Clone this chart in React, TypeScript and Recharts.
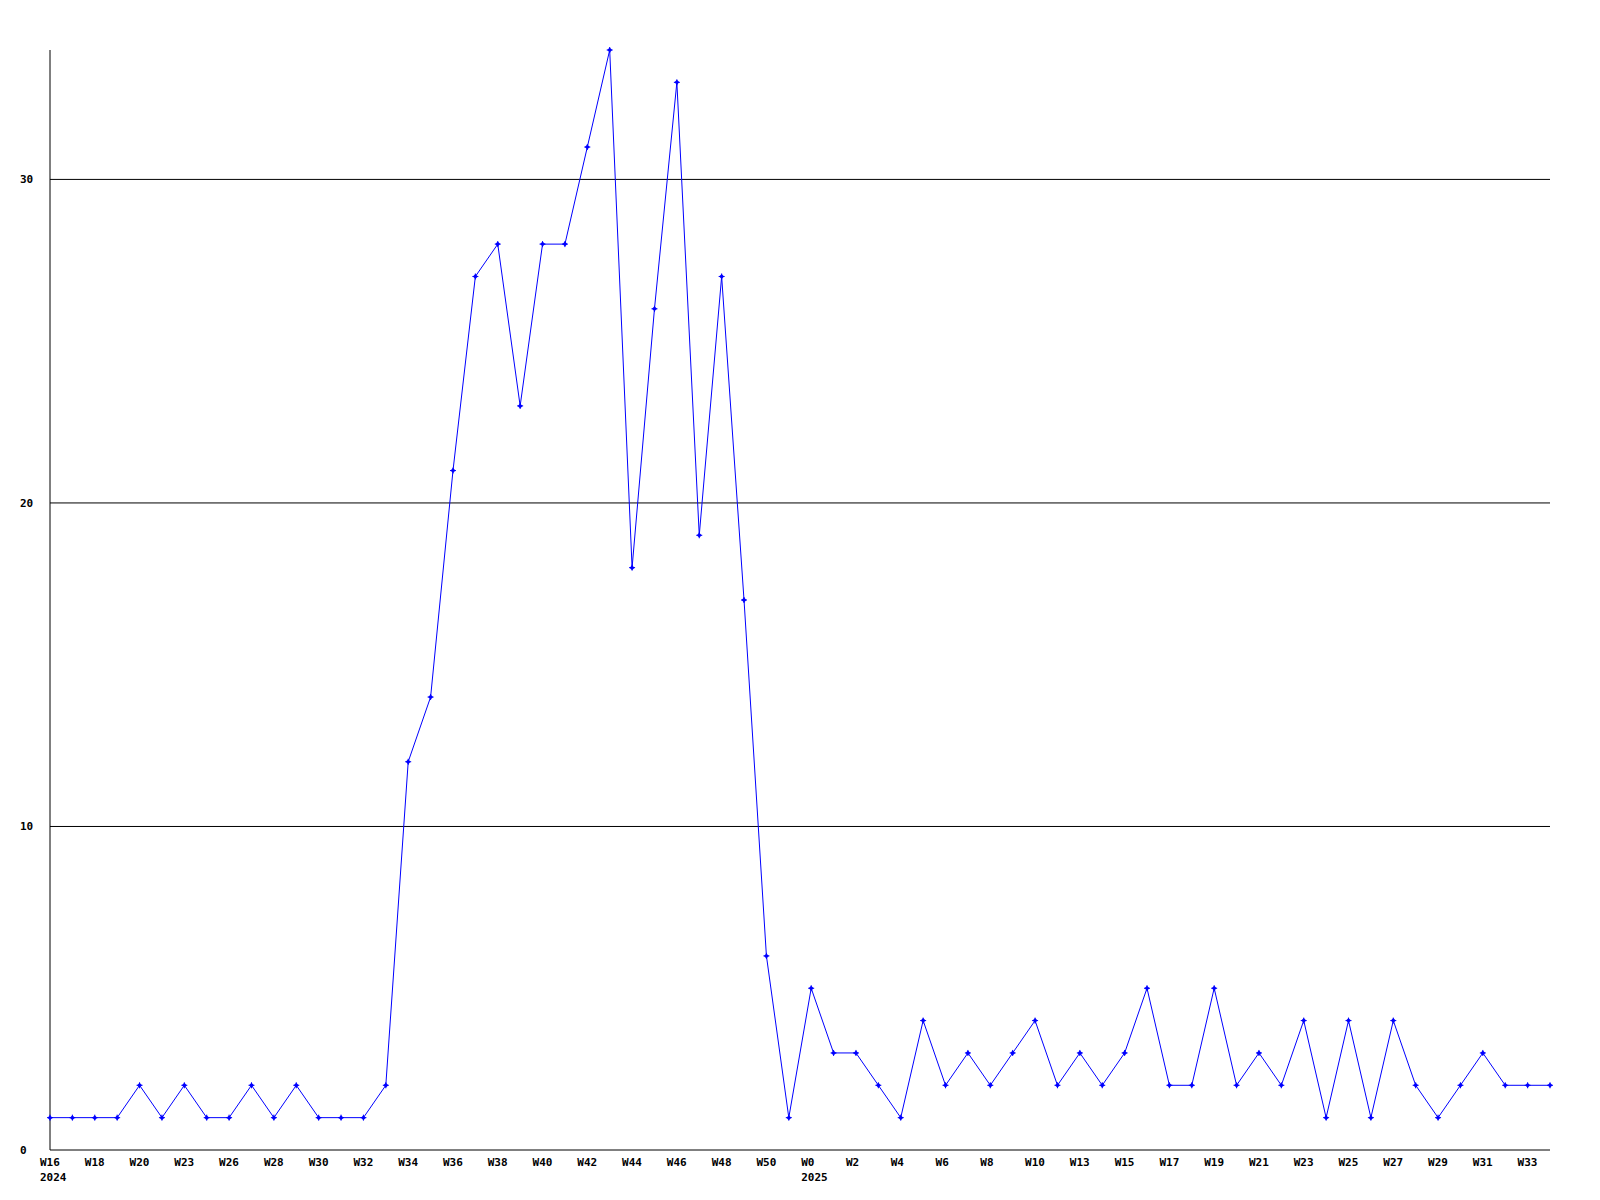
import { LineChart, Line, XAxis, YAxis, ReferenceLine } from "recharts"

// one entry per point, 2024 W16 .. 2025 W34
const weeks2024 = [16, 17, 18, 19, 20, 22, 23, 25, 26, 27, 28, 29, 30, 31, 32, 33, 34, 35, 36, 37, 38, 39, 40, 41, 42, 43, 44, 45, 46, 47, 48, 49, 50, 51]
const weeks2025 = [0, 1, 2, 3, 4, 5, 6, 7, 8, 9, 10, 12, 13, 14, 15, 16, 17, 18, 19, 20, 21, 22, 23, 24, 25, 26, 27, 28, 29, 30, 31, 32, 33, 34]

const counts = [
  1, 1, 1, 1, 2, 1, 2, 1, 1, 2, 1, 2, 1, 1, 1, 2,
  12, 14, 21, 27, 28, 23, 28, 28, 31, 34, 18, 26, 33, 19, 27, 17,
  6, 1, 5, 3, 3, 2, 1, 4, 2, 3, 2, 3, 4, 2, 3, 2,
  3, 5, 2, 2, 5, 2, 3, 2, 4, 1, 4, 1, 4, 2, 1, 2,
  3, 2, 2, 2,
]

const yTicks = [0, 10, 20, 30]
const gridLines = [10, 20, 30]

const categories = [
  ...weeks2024.map((w) => `2024-W${w}`),
  ...weeks2025.map((w) => `2025-W${w}`),
]

const data = categories.map((c, i) => ({ week: c, value: counts[i] }))

const FONT = "'DejaVu Sans Mono', 'Liberation Mono', monospace"

function WeekTick(props: any) {
  const { x, y, payload, index } = props
  if (index % 2 !== 0) return null
  const [year, wk] = String(payload.value).split("-")
  const firstOfYear = index === 0 || wk === "W0"
  return (
    <g>
      <text x={x - 10} y={y + 16} fontFamily={FONT} fontWeight="bold" fontSize={11} fill="#000" textAnchor="start">
        {wk}
      </text>
      {firstOfYear && (
        <text x={x - 10} y={y + 31} fontFamily={FONT} fontWeight="bold" fontSize={11} fill="#000" textAnchor="start">
          {year}
        </text>
      )}
    </g>
  )
}

function ValueTick(props: any) {
  const { x, y, payload } = props
  return (
    <text x={x - 30} y={y + 4} fontFamily={FONT} fontWeight="bold" fontSize={11} fill="#000" textAnchor="start">
      {payload.value}
    </text>
  )
}

function Marker(props: any) {
  const { cx, cy } = props
  if (cx == null || cy == null) return null
  return (
    <g>
      <polygon points={`${cx},${cy - 2.5} ${cx + 2.5},${cy} ${cx},${cy + 2.5} ${cx - 2.5},${cy}`} fill="#0000ff" />
      <path d={`M${cx - 3},${cy} H${cx + 3} M${cx},${cy - 3} V${cy + 3}`} stroke="#0000ff" strokeWidth={1} />
    </g>
  )
}

export default function App() {
  return (
    <div style={{ position: "absolute", left: 0, top: 0, width: 1600, height: 1200, background: "#fff" }}>
      <LineChart width={1600} height={1200} data={data} margin={{ top: 50, right: 50, bottom: 0, left: 0 }}>
        <XAxis
          dataKey="week"
          scale="point"
          padding={{ left: 0, right: 0 }}
          interval={0}
          tick={<WeekTick />}
          tickLine={false}
          tickSize={0}
          tickMargin={0}
          axisLine={{ stroke: "#000", strokeWidth: 1 }}
          height={50}
        />
        <YAxis
          domain={[0, 34]}
          ticks={yTicks}
          tick={<ValueTick />}
          tickLine={false}
          tickSize={0}
          tickMargin={0}
          axisLine={{ stroke: "#000", strokeWidth: 1 }}
          width={50}
        />
        {gridLines.map((g) => (
          <ReferenceLine key={g} y={g} stroke="#000" strokeWidth={1} />
        ))}
        <Line
          type="linear"
          dataKey="value"
          stroke="#0000ff"
          strokeWidth={1}
          dot={<Marker />}
          activeDot={false}
          isAnimationActive={false}
        />
      </LineChart>
    </div>
  )
}
